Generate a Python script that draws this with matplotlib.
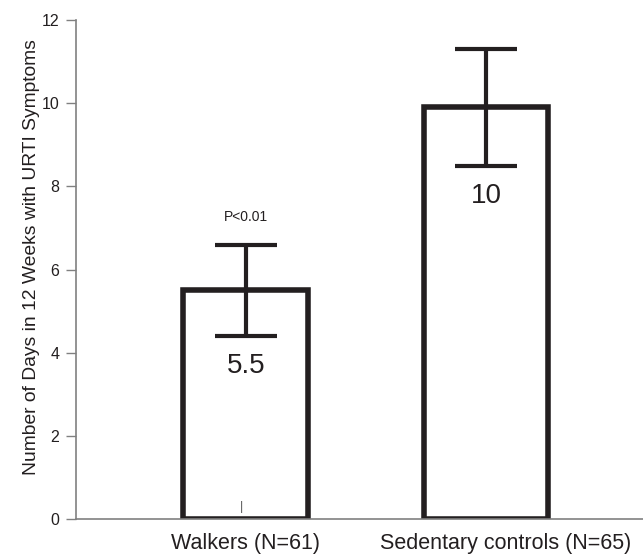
import matplotlib.pyplot as plt
import matplotlib.transforms as mtransforms

plt.rcParams['font.family'] = ['Liberation Sans', 'DejaVu Sans']

# data
groups = ["Walkers (N=61)", "Sedentary controls (N=65)"]
means = [5.5, 9.9]
err_low = [4.4, 8.5]
err_high = [6.6, 11.3]
value_labels = ["5.5", "10"]

fig = plt.figure(figsize=(6.43, 5.56), dpi=100)
ax = fig.add_axes([0.118, 0.066, 0.882, 0.898])

x = list(range(len(groups)))
ax.bar(x, means, width=0.52, facecolor="white", edgecolor="#231f20", linewidth=4, zorder=2)

lower = [m - lo for m, lo in zip(means, err_low)]
upper = [hi - m for m, hi in zip(means, err_high)]
ax.errorbar(x, means, yerr=[lower, upper], fmt="none", ecolor="#231f20",
            elinewidth=3, capsize=22, capthick=3, zorder=3)

# value labels below lower error bar
for xi, lo, lab in zip(x, err_low, value_labels):
    ax.text(xi, lo - 0.72, lab, ha="center", va="center", fontsize=20, color="#231f20")

ax.text(0, 7.26, "P<0.01", ha="center", va="center", fontsize=10, color="#231f20")
ax.text(-0.02, 0.3, "|", ha="center", va="center", fontsize=9, color="#555555")

ax.set_xlim(-0.708, 1.654)
ax.set_ylim(0, 12)
ax.set_yticks([0, 2, 4, 6, 8, 10, 12])
ax.set_xticks(x)
ax.set_xticklabels(groups, fontsize=15.5)
ax.tick_params(axis="x", length=0, pad=10, colors="#231f20")
ax.tick_params(axis="y", length=7, width=1, color="#808080", labelsize=11.5, labelcolor="#231f20", pad=5)

# second category label sits a bit right of its bar in the original
lbl = ax.get_xticklabels()[1]
lbl.set_transform(lbl.get_transform() + mtransforms.ScaledTranslation(0.2, 0, fig.dpi_scale_trans))

ax.set_ylabel("Number of Days in 12 Weeks with URTI Symptoms", fontsize=13.9, color="#231f20")
ax.yaxis.set_label_coords(-0.063, 0.525)

for side in ["top", "right"]:
    ax.spines[side].set_visible(False)
for side in ["left", "bottom"]:
    ax.spines[side].set_color("#808080")
    ax.spines[side].set_linewidth(1.2)

fig.savefig("out.png", dpi=100)
